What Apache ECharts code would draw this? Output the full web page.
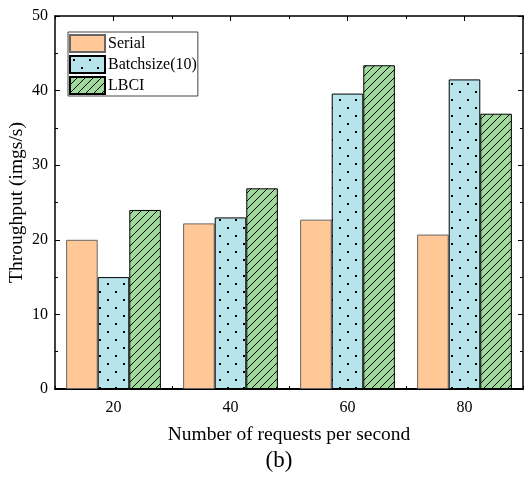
<!DOCTYPE html>
<html>
<head>
<meta charset="utf-8">
<script src="https://cdn.jsdelivr.net/npm/echarts@6/dist/echarts.min.js"></script>
<style>
  html, body { margin: 0; padding: 0; background: #fff; }
  #chart { width: 525px; height: 477px; }
</style>
</head>
<body>
<div id="chart"></div>
<script>
// data
const categories = ["20", "40", "60", "80"];
const serial = [20.0, 22.2, 22.7, 20.7];
const batchsize = [15.0, 23.0, 39.6, 41.5];
const lbci = [24.0, 26.9, 43.4, 36.9];

const FONT = "Liberation Serif";

// fill patterns
function dotPattern(bg) {
  const c = document.createElement("canvas");
  c.width = 16; c.height = 16;
  const g = c.getContext("2d");
  g.fillStyle = bg; g.fillRect(0, 0, 16, 16);
  g.fillStyle = "#000";
  g.fillRect(3, 3, 2, 2);
  g.fillRect(11, 11, 2, 2);
  return { image: c, repeat: "repeat" };
}
function hatchPattern(bg) {
  const c = document.createElement("canvas");
  c.width = 8; c.height = 8;
  const g = c.getContext("2d");
  g.fillStyle = bg; g.fillRect(0, 0, 8, 8);
  g.strokeStyle = "#000"; g.lineWidth = 1;
  g.beginPath();
  g.moveTo(-1, 9); g.lineTo(9, -1);
  g.moveTo(-5, 5); g.lineTo(5, -5);
  g.moveTo(3, 13); g.lineTo(13, 3);
  g.stroke();
  return { image: c, repeat: "repeat" };
}

const chart = echarts.init(document.getElementById("chart"));

const axisLine = { show: true, lineStyle: { color: "#000", width: 1.5 } };
const minorX = (pos) => ({
  type: "category", position: pos, data: categories, gridIndex: 0,
  axisLine: { show: false }, axisLabel: { show: false },
  axisTick: { show: true, inside: true, length: 3, lineStyle: { color: "#000", width: 1 } }
});

chart.setOption({
  animation: false,
  textStyle: { fontFamily: FONT },
  title: {
    text: "(b)", left: 274, top: 444, textAlign: "center",
    textStyle: { fontFamily: FONT, fontSize: 23, fontWeight: "normal", color: "#000" }
  },
  grid: { left: 55, right: 2, top: 16, bottom: 88, containLabel: false, outerBoundsMode: "none" },
  legend: {
    orient: "vertical", left: 68, top: 32, icon: "rect",
    padding: [2, 1, 1, 1], itemGap: 2, itemWidth: 35, itemHeight: 17,
    borderColor: "#444", borderWidth: 1,
    textStyle: { fontFamily: FONT, fontSize: 16, color: "#000", padding: [0, 0, 0, -2] },
    data: ["Serial", "Batchsize(10)", "LBCI"]
  },
  xAxis: [
    {
      type: "category", position: "bottom", data: categories,
      name: "Number of requests per second", nameLocation: "middle", nameGap: 36,
      nameMoveOverlap: false,
      nameTextStyle: { fontFamily: FONT, fontSize: 19.5, color: "#000" },
      axisLine: { show: true, lineStyle: { color: "#000", width: 2 } },
      axisTick: { show: true, inside: true, alignWithLabel: true, length: 5, lineStyle: { color: "#000" } },
      axisLabel: { fontFamily: FONT, fontSize: 16, color: "#000", margin: 11 }
    },
    minorX("bottom"),
    {
      type: "category", position: "top", data: categories,
      axisLine: axisLine, axisLabel: { show: false },
      axisTick: { show: true, inside: true, alignWithLabel: true, length: 5, lineStyle: { color: "#000" } }
    },
    minorX("top")
  ],
  yAxis: [
    {
      type: "value", min: 0, max: 50, interval: 10, position: "left",
      name: "Throughput (imgs/s)", nameLocation: "middle", nameGap: 28,
      nameMoveOverlap: false,
      nameTextStyle: { fontFamily: FONT, fontSize: 19.5, color: "#000" },
      axisLine: axisLine,
      axisTick: { show: true, inside: true, length: 5, lineStyle: { color: "#000" } },
      minorTick: { show: true, splitNumber: 2, length: 3, lineStyle: { color: "#000" } },
      axisLabel: { fontFamily: FONT, fontSize: 16, color: "#000", margin: 7 },
      splitLine: { show: false }
    },
    {
      type: "value", min: 0, max: 50, interval: 10, position: "right",
      axisLine: axisLine,
      axisTick: { show: true, inside: true, length: 5, lineStyle: { color: "#000" } },
      minorTick: { show: true, splitNumber: 2, length: 3, lineStyle: { color: "#000" } },
      axisLabel: { show: false },
      splitLine: { show: false }
    }
  ],
  series: [
    {
      name: "Serial", type: "bar", data: serial, barGap: "0%", barCategoryGap: "19%",
      itemStyle: { color: "#FFC896", borderColor: "#666", borderWidth: 1 }
    },
    {
      name: "Batchsize(10)", type: "bar", data: batchsize, barGap: "0%", barCategoryGap: "19%",
      itemStyle: { color: dotPattern("#B7E4EA"), borderColor: "#000", borderWidth: 1 }
    },
    {
      name: "LBCI", type: "bar", data: lbci, barGap: "0%", barCategoryGap: "19%",
      itemStyle: { color: hatchPattern("#A0D99C"), borderColor: "#000", borderWidth: 1 }
    }
  ]
});
</script>
</body>
</html>
